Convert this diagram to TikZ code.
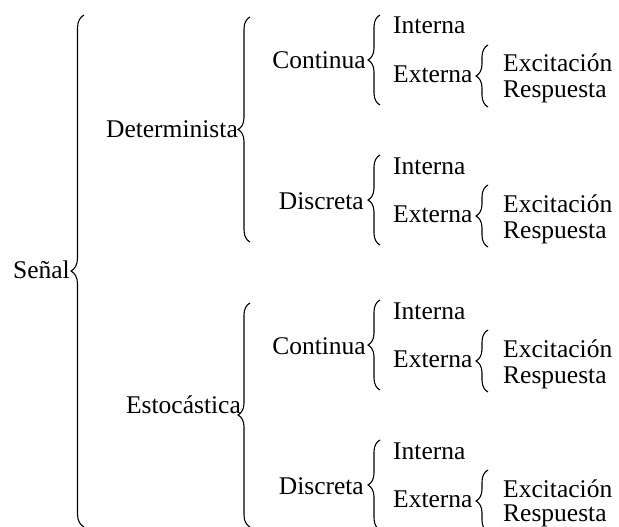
\documentclass[tikz,border=0pt]{standalone}
\usepackage{fontspec}
\setmainfont{Liberation Serif}
\usetikzlibrary{decorations.pathreplacing}
\tikzset{
  lbl/.style={inner sep=0pt, font=\fontsize{25.5}{30}\selectfont},
  brc/.style={decorate, decoration={brace, amplitude=#1}, line width=1.1pt},
  brc/.default=12
}
\begin{document}
\begin{tikzpicture}[x=1pt, y=-1pt]
    \useasboundingbox (0,0) rectangle (619,527);

    % first level
    \node[lbl, anchor=base east] (senal) at (70,278) {Señal};
    \coordinate (sb) at (84,527);
    \coordinate (st) at (84,15);
    \draw[brc=13] (sb) -- (st);

    \node[lbl, anchor=base east] (det) at (238,137) {Determinista};
    \coordinate (db) at (250,242);
    \coordinate (dt) at (250,17);
    \draw[brc] (db) -- (dt);

    \node[lbl, anchor=base east] (est) at (241,413) {Estocástica};
    \coordinate (eb) at (250,527);
    \coordinate (et) at (250,303);
    \draw[brc] (eb) -- (et);

    % Determinista, continua
    \node[lbl, anchor=base east] (dcon) at (366,69) {Continua};
    \coordinate (dcb) at (380,105);
    \coordinate (dct) at (380,15);
    \draw[brc] (dcb) -- (dct);
    \node[lbl, anchor=base west] (dcint) at (393,34) {Interna};
    \node[lbl, anchor=base west] (dcext) at (393,82) {Externa};
    \coordinate (dceb) at (488,107);
    \coordinate (dcet) at (488,45);
    \draw[brc] (dceb) -- (dcet);
    \node[lbl, anchor=base west] (dcexc) at (503,72) {Excitación};
    \node[lbl, anchor=base west] (dcres) at (503,98) {Respuesta};

    % Determinista, discreta
    \node[lbl, anchor=base east] (ddis) at (364,209) {Discreta};
    \coordinate (ddb) at (380,245);
    \coordinate (ddt) at (380,155);
    \draw[brc] (ddb) -- (ddt);
    \node[lbl, anchor=base west] (ddint) at (393,174) {Interna};
    \node[lbl, anchor=base west] (ddext) at (393,222) {Externa};
    \coordinate (ddeb) at (488,247);
    \coordinate (ddet) at (488,185);
    \draw[brc] (ddeb) -- (ddet);
    \node[lbl, anchor=base west] (ddexc) at (503,212) {Excitación};
    \node[lbl, anchor=base west] (ddres) at (503,238) {Respuesta};

    % Estocastica, continua
    \node[lbl, anchor=base east] (econ) at (366,354) {Continua};
    \coordinate (ecb) at (380,390);
    \coordinate (ect) at (380,300);
    \draw[brc] (ecb) -- (ect);
    \node[lbl, anchor=base west] (ecint) at (393,319) {Interna};
    \node[lbl, anchor=base west] (ecext) at (393,367) {Externa};
    \coordinate (eceb) at (488,392);
    \coordinate (ecet) at (488,330);
    \draw[brc] (eceb) -- (ecet);
    \node[lbl, anchor=base west] (ecexc) at (503,357) {Excitación};
    \node[lbl, anchor=base west] (ecres) at (503,383) {Respuesta};

    % Estocastica, discreta
    \node[lbl, anchor=base east] (edis) at (364,494) {Discreta};
    \coordinate (edb) at (380,530);
    \coordinate (edt) at (380,440);
    \draw[brc] (edb) -- (edt);
    \node[lbl, anchor=base west] (edint) at (393,459) {Interna};
    \node[lbl, anchor=base west] (edext) at (393,507) {Externa};
    \coordinate (edeb) at (488,532);
    \coordinate (edet) at (488,470);
    \draw[brc] (edeb) -- (edet);
    \node[lbl, anchor=base west] (edexc) at (503,497) {Excitación};
    \node[lbl, anchor=base west] (edres) at (503,521) {Respuesta};
\end{tikzpicture}
\end{document}
